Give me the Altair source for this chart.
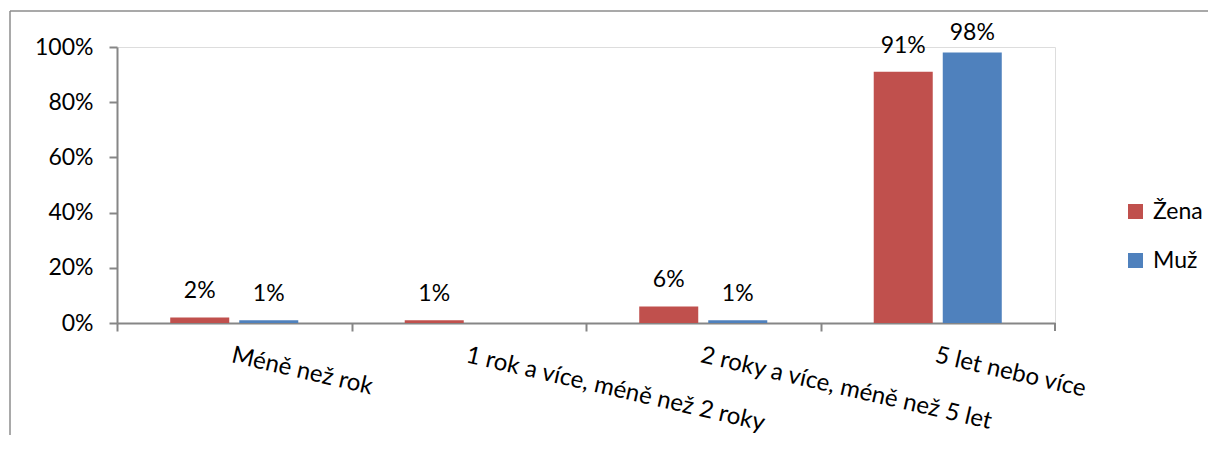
import altair as alt
import pandas as pd

categories = ["Méně než rok", "1 rok a více, méně než 2 roky",
              "2 roky a více, méně než 5 let", "5 let nebo více"]
series = ["Žena", "Muž"]
zena = [0.02, 0.01, 0.06, 0.91]
muz = [0.01, 0.0, 0.01, 0.98]
colors = ["#C0504D", "#4F81BD"]
y_ticks = [0, 0.2, 0.4, 0.6, 0.8, 1.0]

rows = []
for i, c in enumerate(categories):
    rows.append({"kat": c, "pohlavi": series[0], "podil": zena[i]})
    rows.append({"kat": c, "pohlavi": series[1], "podil": muz[i]})
df = pd.DataFrame(rows)

W, H = 938, 276
FONT = "Lato"
FS = 23
GRAY = "#868686"
half_step = W / len(categories) / 2

x_enc = alt.X(
    "kat:N", sort=categories, title=None,
    scale=alt.Scale(paddingInner=0.454, paddingOuter=0.227),
    axis=alt.Axis(labelAngle=13, labelAlign="left", labelBaseline="top",
                  tickOffset=-half_step, labelOffset=half_step,
                  labelLimit=500, labelOverlap=False, labelPadding=12,
                  tickSize=8, tickColor=GRAY, tickWidth=2,
                  domainColor=GRAY, domainWidth=2,
                  labelFont=FONT, labelFontSize=24, labelColor="black"),
)
y_enc = alt.Y(
    "podil:Q", title=None, scale=alt.Scale(domain=[0, 1]),
    axis=alt.Axis(format=".0%", values=y_ticks, grid=False,
                  tickSize=8, tickColor=GRAY, tickWidth=2,
                  domainColor=GRAY, domainWidth=2, labelPadding=16,
                  labelFont=FONT, labelFontSize=FS, labelColor="black"),
)
xoff = alt.XOffset("pohlavi:N", sort=series,
                   scale=alt.Scale(paddingInner=0.145, paddingOuter=0))

bars = alt.Chart(df).mark_bar().encode(
    x=x_enc, y=y_enc, xOffset=xoff,
    color=alt.Color("pohlavi:N", sort=series,
                    scale=alt.Scale(domain=series, range=colors),
                    legend=alt.Legend(title=None, orient="none", legendX=1007, legendY=153,
                                      symbolType="square", symbolSize=225,
                                      symbolStrokeWidth=0, labelFont=FONT,
                                      labelFontSize=FS, labelColor="black",
                                      rowPadding=25, labelOffset=6)),
)

labels = alt.Chart(df).transform_filter(
    "datum.podil > 0"
).transform_calculate(
    ly="min(datum.podil, 0.955)"
).mark_text(baseline="alphabetic", dy=-19, font=FONT, fontSize=FS, color="black").encode(
    x=alt.X("kat:N", sort=categories),
    y=alt.Y("ly:Q"),
    xOffset=xoff,
    text=alt.Text("podil:Q", format=".0%"),
)

frame_top = alt.Chart(alt.Data(values=[{}])).mark_rule(
    color="#8C8C8C", strokeWidth=1.5
).encode(x=alt.value(-107), x2=alt.value(W + 200), y=alt.value(-36))

frame_left = alt.Chart(alt.Data(values=[{}])).mark_rule(
    color="#8C8C8C", strokeWidth=1.5
).encode(x=alt.value(-107), y=alt.value(-36), y2=alt.value(H + 200))

end_tick = alt.Chart(alt.Data(values=[{}])).mark_rule(
    color=GRAY, strokeWidth=2
).encode(x=alt.value(W), y=alt.value(H), y2=alt.value(H + 8))

chart = alt.layer(frame_top, frame_left, bars, labels, end_tick).properties(
    width=W, height=H,
    autosize=alt.AutoSizeParams(type="none"),
    padding={"left": 109, "top": 39, "right": 153, "bottom": 112},
).configure_view(stroke=None).configure(background="white")

chart.save("out.html", embed_options={"renderer": "svg", "actions": False})
